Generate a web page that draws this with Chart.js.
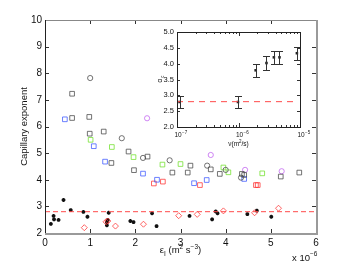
<!DOCTYPE html>
<html>
<head>
<meta charset="utf-8">
<script src="https://cdn.jsdelivr.net/npm/chart.js@4.4.0/dist/chart.umd.min.js"></script>
<style>
  html, body { margin: 0; padding: 0; background: #fff; }
  #wrap { position: relative; width: 350px; height: 265px; }
  #mainChart { position: absolute; left: 0; top: 0; width: 350px; height: 265px; }
  #insetChart { position: absolute; left: 130px; top: 15px; width: 215px; height: 140px; }
</style>
</head>
<body>
<div id="wrap">
  <canvas id="mainChart" width="350" height="265"></canvas>
  <canvas id="insetChart" width="215" height="140"></canvas>
</div>
<script>
// main scatter: [epsilon (x 1e-6), exponent]
const blackSquares = [[0.6,7.23],[0.6,6.32],[0.98,6.36],[0.99,5.73],[1.3,5.81],[1.85,5.06],[2.27,4.87],[1.47,4.63],[1.97,4.36],[2.82,4.27],[3.22,4.53],[3.16,4.27],[3.67,4.39],[3.87,4.22],[4.36,4.22],[4.41,4.18],[5.22,4.12],[5.63,4.27]];
const blackCircles = [[1.0,7.82],[1.7,5.56],[2.17,4.82],[2.76,4.73],[3.59,4.53],[4.0,4.37],[4.34,4.08]];
const blueSquares = [[0.44,6.27],[1.08,5.26],[1.33,4.68],[2.17,4.23],[2.48,4.0],[3.3,3.87],[3.58,3.99],[4.41,4.03]];
const greenSquares = [[1.01,5.5],[1.48,5.23],[1.96,4.85],[2.6,4.57],[3.0,4.59],[3.95,4.46],[4.06,4.28],[4.81,4.24]];
const redSquares = [[2.41,3.86],[2.61,3.93],[3.43,3.8],[4.67,3.8],[4.71,3.8]];
const magentaCircles = [[2.26,6.31],[3.67,4.93],[4.43,4.37],[5.24,4.32]];
const redDiamonds = [[0.87,2.2],[1.35,2.42],[1.39,2.45],[1.56,2.26],[2.18,2.33],[2.96,2.65],[3.37,2.7],[3.95,2.83],[4.64,2.76],[5.17,2.93]];
const asterisks = [[0.13,2.34],[0.19,2.64],[0.2,2.51],[0.3,2.49],[0.41,3.24],[0.57,2.86],[0.85,2.79],[0.94,2.61],[1.41,2.76],[1.39,2.49],[1.37,2.41],[1.37,2.29],[1.89,2.45],[1.96,2.41],[2.37,2.74],[2.47,2.26],[3.2,2.64],[3.7,2.51],[3.78,2.81],[3.82,2.74],[4.48,2.71],[4.69,2.84],[5.01,2.61]];
const thresholdLevel = 2.8;
const mainXTicks = [0, 1, 2, 3, 4, 5, 6];
const mainYTicks = [2, 3, 4, 5, 6, 7, 8, 9, 10];

// inset: viscosity vs critical exponent
const nuValues = [1.1e-7, 0.98e-6, 1.9e-6, 2.85e-6, 3.76e-6, 4.64e-6, 8.9e-6];
const alphaValues = [2.79, 2.79, 3.79, 4.02, 4.2, 4.2, 4.33];
const alphaErrors = [0.2, 0.19, 0.2, 0.21, 0.2, 0.2, 0.2];
const insetLineRange = [1e-7, 8.6e-6];
const insetXMajor = [1e-7, 1e-6, 1e-5];
const insetExponents = ['-7', '-6', '-5'];
const insetYTicks = [2, 2.5, 3, 3.5, 4, 4.5, 5];

const FONT = "'Liberation Sans', Arial, Helvetica, sans-serif";
const pts = arr => arr.map(p => ({ x: p[0], y: p[1] }));

function markers(label, data, style, color, radius, fill, bw) {
    return {
        label: label,
        data: pts(data),
        pointStyle: style,
        borderColor: color,
        backgroundColor: fill || 'rgba(0,0,0,0)',
        pointRadius: radius,
        pointBorderWidth: bw || 0.75,
        showLine: false
    };
}

function seg(ctx, x1, y1, x2, y2) {
    ctx.beginPath();
    ctx.moveTo(x1, y1);
    ctx.lineTo(x2, y2);
    ctx.stroke();
}

// frame, inward ticks and axis titles for the main axes
const mainFrame = {
    id: 'mainFrame',
    afterDraw(chart) {
        const { ctx, chartArea: a, scales: { x, y } } = chart;
        ctx.save();
        ctx.lineWidth = 1;
        ctx.strokeStyle = '#333';
        mainXTicks.forEach(v => {
            const px = Math.round(x.getPixelForValue(v)) + 0.5;
            seg(ctx, px, a.bottom, px, a.bottom - 4);
            seg(ctx, px, a.top, px, a.top + 4);
        });
        mainYTicks.forEach(v => {
            const py = Math.round(y.getPixelForValue(v)) + 0.5;
            seg(ctx, a.left, py, a.left + 4, py);
            seg(ctx, a.right, py, a.right - 4, py);
        });
        // box
        ctx.strokeStyle = '#888';
        seg(ctx, a.left, a.top + 0.5, a.right, a.top + 0.5);
        ctx.strokeStyle = '#222';
        seg(ctx, a.left + 0.5, a.top, a.left + 0.5, a.bottom);
        ctx.lineWidth = 2;
        ctx.strokeStyle = '#9a9a9a';
        seg(ctx, a.left, a.bottom + 1, a.right + 2, a.bottom + 1);
        seg(ctx, a.right + 1, a.top, a.right + 1, a.bottom + 1);

        // y title
        ctx.fillStyle = '#111';
        ctx.font = '9.5px ' + FONT;
        ctx.textAlign = 'center';
        ctx.textBaseline = 'middle';
        ctx.save();
        ctx.translate(24, (a.top + a.bottom) / 2);
        ctx.rotate(-Math.PI / 2);
        ctx.fillText('Capillary exponent', 0, 0);
        ctx.restore();

        // x title: eps_I (m^2 s^-3)
        const base = 253;
        const parts = [
            ['\u03b5', 9.5, 0], ['I', 6.5, 2.5], [' (m', 9.5, 0], ['2', 6.5, -4],
            [' s', 9.5, 0], ['\u22123', 6.5, -4], [')', 9.5, 0]
        ];
        let w = 0;
        parts.forEach(p => { ctx.font = p[1] + 'px ' + FONT; w += ctx.measureText(p[0]).width; });
        let cx = (a.left + a.right) / 2 - w / 2;
        ctx.textAlign = 'left';
        ctx.textBaseline = 'alphabetic';
        parts.forEach(p => {
            ctx.font = p[1] + 'px ' + FONT;
            ctx.fillText(p[0], cx, base + p[2]);
            cx += ctx.measureText(p[0]).width;
        });

        // multiplier
        ctx.font = '9.5px ' + FONT;
        ctx.fillText('x 10', 292, 261);
        ctx.font = '6.5px ' + FONT;
        ctx.fillText('\u22126', 310, 256);
        ctx.restore();
    }
};

new Chart(document.getElementById('mainChart'), {
    type: 'scatter',
    data: {
        datasets: [
            {
                label: 'threshold',
                data: [{ x: 0, y: thresholdLevel }, { x: 6, y: thresholdLevel }],
                showLine: true,
                borderColor: '#ff4a4a',
                borderWidth: 1,
                borderDash: [5, 3],
                pointRadius: 0
            },
            markers('black squares', blackSquares, 'rect', '#444', 3.3),
            markers('black circles', blackCircles, 'circle', '#444', 2.6),
            markers('blue squares', blueSquares, 'rect', '#3b55ff', 3.3),
            markers('green squares', greenSquares, 'rect', '#6fe02a', 3.3),
            markers('red squares', redSquares, 'rect', '#ff3030', 3.3),
            markers('magenta circles', magentaCircles, 'circle', '#c060f0', 2.6),
            markers('red diamonds', redDiamonds, 'rectRot', '#ff3030', 3),
            markers('asterisks', asterisks, 'star', '#111', 1.9, null, 1.3)
        ]
    },
    options: {
        responsive: false,
        animation: false,
        layout: { padding: { left: 0, right: 34, top: 20, bottom: 0 } },
        plugins: { legend: { display: false }, tooltip: { enabled: false } },
        scales: {
            x: {
                type: 'linear', min: 0, max: 6,
                grid: { display: false, drawTicks: false },
                border: { display: false },
                ticks: { stepSize: 1, padding: 4, color: '#111', font: { size: 10, family: FONT } },
                afterFit: s => { s.height = 32; }
            },
            y: {
                type: 'linear', min: 2, max: 10,
                grid: { display: false, drawTicks: false },
                border: { display: false },
                ticks: { stepSize: 1, padding: 3, color: '#111', font: { size: 10, family: FONT } },
                afterFit: s => { s.width = 45; }
            }
        }
    },
    plugins: [mainFrame]
});

// inset: white background, error bars, ticks, labels
const insetDeco = {
    id: 'insetDeco',
    beforeDraw(chart) {
        const { ctx, chartArea: a } = chart;
        ctx.save();
        ctx.fillStyle = '#fff';
        ctx.fillRect(a.left, a.top, a.right - a.left, a.bottom - a.top);
        ctx.restore();
    },
    afterDatasetsDraw(chart) {
        const { ctx, scales: { x, y } } = chart;
        ctx.save();
        ctx.strokeStyle = '#333';
        ctx.lineWidth = 1;
        nuValues.forEach((nu, i) => {
            const px = Math.round(x.getPixelForValue(nu)) + 0.5;
            const top = Math.round(y.getPixelForValue(alphaValues[i] + alphaErrors[i])) + 0.5;
            const bot = Math.round(y.getPixelForValue(alphaValues[i] - alphaErrors[i])) + 0.5;
            seg(ctx, px, top, px, bot);
            seg(ctx, px - 3.5, top, px + 3.5, top);
            seg(ctx, px - 3.5, bot, px + 3.5, bot);
        });
        ctx.restore();
    },
    afterDraw(chart) {
        const { ctx, chartArea: a, scales: { x, y } } = chart;
        ctx.save();
        ctx.strokeStyle = '#333';
        ctx.lineWidth = 1;
        for (let e = -7; e < -5; e++) {
            for (let m = 1; m <= 9; m++) {
                const px = Math.round(x.getPixelForValue(m * Math.pow(10, e))) + 0.5;
                const len = m === 1 ? 4 : 2;
                seg(ctx, px, a.bottom, px, a.bottom - len);
                seg(ctx, px, a.top, px, a.top + len);
            }
        }
        insetYTicks.forEach(v => {
            const py = Math.round(y.getPixelForValue(v)) + 0.5;
            seg(ctx, a.left, py, a.left + 3, py);
            seg(ctx, a.right, py, a.right - 3, py);
        });
        ctx.strokeStyle = '#222';
        ctx.strokeRect(Math.round(a.left) + 0.5, Math.round(a.top) + 0.5, Math.round(a.right - a.left), Math.round(a.bottom - a.top));

        // x tick labels 10^n
        ctx.fillStyle = '#111';
        ctx.textBaseline = 'alphabetic';
        insetXMajor.forEach((v, i) => {
            const px = x.getPixelForValue(v);
            ctx.font = '6.5px ' + FONT;
            ctx.textAlign = 'center';
            ctx.fillText('10', px + 1, a.bottom + 10);
            ctx.font = '4.5px ' + FONT;
            ctx.textAlign = 'left';
            ctx.fillText(insetExponents[i].replace('-', '\u2212'), px + 5, a.bottom + 6.5);
        });

        // x title nu(m^2/s)
        const cx0 = (a.left + a.right) / 2;
        ctx.font = '6.5px ' + FONT;
        const w1 = ctx.measureText('\u03bd(m').width;
        const w3 = ctx.measureText('/s)').width;
        ctx.font = '4.5px ' + FONT;
        const w2 = ctx.measureText('2').width;
        let cx = cx0 - (w1 + w2 + w3) / 2;
        ctx.textAlign = 'left';
        ctx.font = '6.5px ' + FONT;
        ctx.fillText('\u03bd(m', cx, a.bottom + 19);
        cx += w1;
        ctx.font = '4.5px ' + FONT;
        ctx.fillText('2', cx, a.bottom + 16);
        cx += w2;
        ctx.font = '6.5px ' + FONT;
        ctx.fillText('/s)', cx, a.bottom + 19);

        // y title alpha_c
        ctx.save();
        ctx.translate(a.left - 15, y.getPixelForValue(3.5));
        ctx.rotate(-Math.PI / 2);
        ctx.textAlign = 'center';
        ctx.font = '6.5px ' + FONT;
        ctx.fillText('\u03b1', -1, 0);
        ctx.font = '4.5px ' + FONT;
        ctx.fillText('c', 3, 2);
        ctx.restore();
        ctx.restore();
    }
};

new Chart(document.getElementById('insetChart'), {
    type: 'scatter',
    data: {
        datasets: [
            {
                label: 'level',
                data: insetLineRange.map(v => ({ x: v, y: thresholdLevel })),
                showLine: true,
                borderColor: '#ff4a4a',
                borderWidth: 1,
                borderDash: [6, 5],
                pointRadius: 0
            },
            {
                label: 'alpha_c',
                data: nuValues.map((v, i) => ({ x: v, y: alphaValues[i] })),
                pointStyle: 'rect',
                pointRadius: 1.8,
                backgroundColor: '#222',
                borderColor: '#222',
                borderWidth: 0
            }
        ]
    },
    options: {
        responsive: false,
        animation: false,
        layout: { padding: { left: 0, right: 45, top: 17, bottom: 0 } },
        plugins: { legend: { display: false }, tooltip: { enabled: false } },
        scales: {
            x: {
                type: 'logarithmic', min: 1e-7, max: 1e-5,
                grid: { display: false, drawTicks: false },
                border: { display: false },
                ticks: { display: false },
                afterFit: s => { s.height = 28; }
            },
            y: {
                type: 'linear', min: 2, max: 5,
                grid: { display: false, drawTicks: false },
                border: { display: false },
                ticks: { stepSize: 0.5, padding: 3, color: '#111', font: { size: 7.5, family: FONT } },
                afterFit: s => { s.width = 47; }
            }
        }
    },
    plugins: [insetDeco]
});
</script>
</body>
</html>
